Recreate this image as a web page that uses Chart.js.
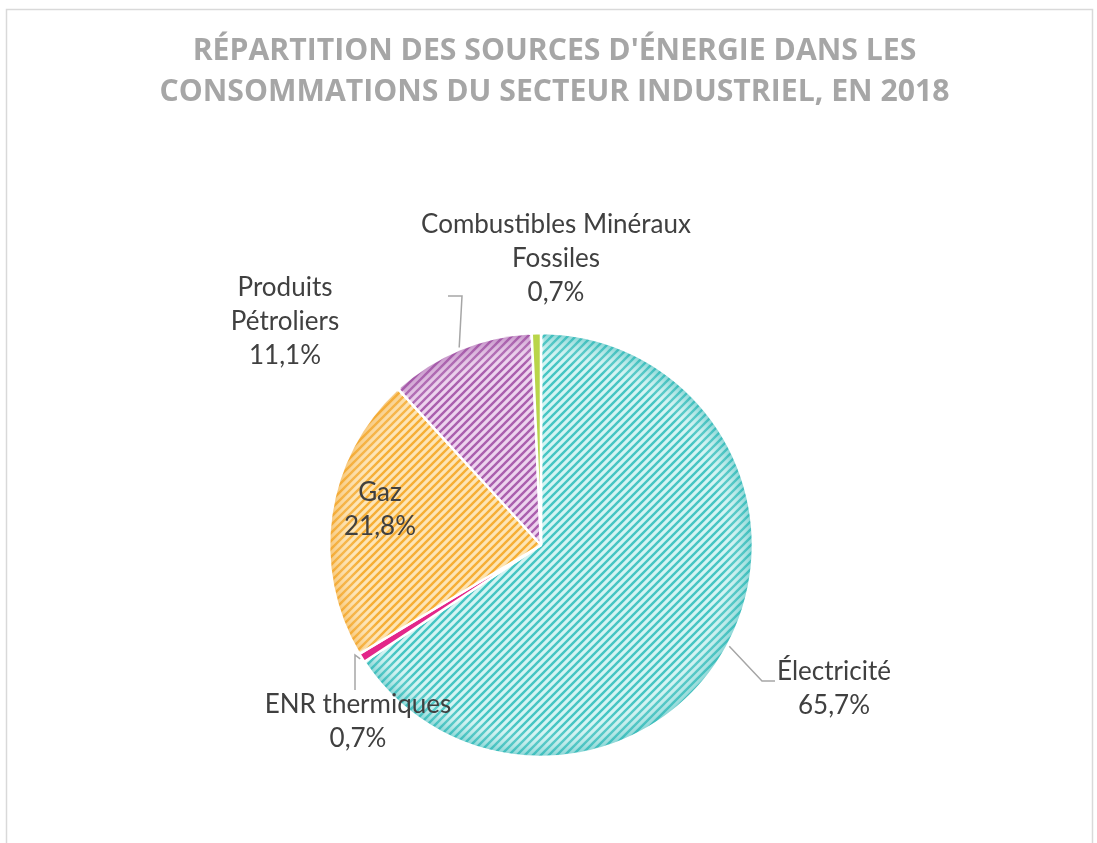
<!DOCTYPE html>
<html>
<head>
<meta charset="utf-8">
<script src="https://cdn.jsdelivr.net/npm/chart.js@4.4.1/dist/chart.umd.min.js"></script>
<style>
  html, body { margin: 0; padding: 0; background: #ffffff; }
  #wrap { width: 1097px; height: 843px; }
</style>
</head>
<body>
<div id="wrap"><canvas id="chart" width="1097" height="843"></canvas></div>
<script>
// Data
const categories = ['Électricité', 'ENR thermiques', 'Gaz', 'Produits Pétroliers', 'Combustibles Minéraux Fossiles'];
const shares = [65.7, 0.7, 21.8, 11.1, 0.7];
const labelLines = [
  ['Électricité'],
  ['ENR thermiques'],
  ['Gaz'],
  ['Produits', 'Pétroliers'],
  ['Combustibles Minéraux', 'Fossiles']
];
const titleLines = [
  "RÉPARTITION DES SOURCES D'ÉNERGIE DANS LES",
  'CONSOMMATIONS DU SECTEUR INDUSTRIEL, EN 2018'
];

// Label placement, relative to the pie centre (px)
const labelLayout = [
  { dx: 293, dy: 144, leader: [[221, 136], [234, 136]] },
  { dx: -183, dy: 177, leader: [[-186, 110], [-186, 145]] },
  { dx: -161, dy: -35, leader: null },
  { dx: -256, dy: -223, leader: [[-79, -249], [-93, -249]] },
  { dx: 15, dy: -286, leader: null }
];

const labelFont = '26px Lato';
const labelColor = '#404040';
const titleFamily = 'Open Sans';
const titleWidth = 723;

// pick a title size so the first line is as wide as in the reference
function fitTitleSize() {
  const g = document.createElement('canvas').getContext('2d');
  g.font = 'bold 30px "' + titleFamily + '"';
  const w = g.measureText(titleLines[0]).width;
  return Math.round(30 * titleWidth / w * 10) / 10;
}

function stripePattern(bg, fg) {
  const size = 8;
  const c = document.createElement('canvas');
  c.width = size;
  c.height = size;
  const g = c.getContext('2d');
  g.fillStyle = bg;
  g.fillRect(0, 0, size, size);
  g.strokeStyle = fg;
  g.lineWidth = 2.4;
  g.beginPath();
  g.moveTo(-2, size + 2); g.lineTo(size + 2, -2);
  g.moveTo(-2, 2); g.lineTo(2, -2);
  g.moveTo(size - 2, size + 2); g.lineTo(size + 2, size - 2);
  g.stroke();
  return g.createPattern(c, 'repeat');
}

const fills = [
  stripePattern('#d4f4f3', '#45c5c3'),
  '#e3268a',
  stripePattern('#fde5b6', '#f6ae35'),
  stripePattern('#edd3ee', '#aa5fae'),
  '#b9d54a'
];
const edgeShade = ['rgba(40,175,175,0.45)', null, 'rgba(240,160,40,0.45)', 'rgba(150,70,155,0.45)', null];

// frame and title (title drawn here so it is not squeezed into the pie's box)
const framePlugin = {
  id: 'frame',
  beforeDraw(chart) {
    const ctx = chart.ctx;
    ctx.save();
    ctx.strokeStyle = '#d9d9d9';
    ctx.lineWidth = 1.5;
    ctx.strokeRect(6.5, 9.5, 1086, 900);
    const size = fitTitleSize();
    ctx.font = 'bold ' + size + 'px "' + titleFamily + '"';
    ctx.fillStyle = '#a6a6a6';
    ctx.textAlign = 'center';
    ctx.textBaseline = 'middle';
    titleLines.forEach((t, k) => ctx.fillText(t, 554.5, 51 + k * 41));
    ctx.restore();
  }
};

// soft darker rim along the outer edge of the patterned slices
const shadePlugin = {
  id: 'edgeShade',
  afterDatasetsDraw(chart) {
    const ctx = chart.ctx;
    const meta = chart.getDatasetMeta(0);
    meta.data.forEach((arc, i) => {
      if (!edgeShade[i]) return;
      const p = arc.getProps(['x', 'y', 'startAngle', 'endAngle', 'outerRadius'], true);
      const pad = 0.012;
      ctx.save();
      ctx.beginPath();
      ctx.moveTo(p.x, p.y);
      ctx.arc(p.x, p.y, p.outerRadius - 1, p.startAngle + pad, p.endAngle - pad);
      ctx.closePath();
      ctx.clip();
      const grad = ctx.createRadialGradient(p.x, p.y, p.outerRadius * 0.86, p.x, p.y, p.outerRadius);
      grad.addColorStop(0, 'rgba(255,255,255,0)');
      grad.addColorStop(1, edgeShade[i]);
      ctx.fillStyle = grad;
      ctx.fillRect(p.x - p.outerRadius, p.y - p.outerRadius, p.outerRadius * 2, p.outerRadius * 2);
      ctx.restore();
    });
  }
};

const labelPlugin = {
  id: 'sliceLabels',
  afterDatasetsDraw(chart) {
    const ctx = chart.ctx;
    const meta = chart.getDatasetMeta(0);
    ctx.save();
    meta.data.forEach((arc, i) => {
      const p = arc.getProps(['x', 'y', 'startAngle', 'endAngle', 'outerRadius'], true);
      const mid = (p.startAngle + p.endAngle) / 2;
      const lay = labelLayout[i];
      if (lay.leader) {
        ctx.strokeStyle = '#a6a6a6';
        ctx.lineWidth = 1.5;
        ctx.beginPath();
        ctx.moveTo(p.x + Math.cos(mid) * (p.outerRadius + 2), p.y + Math.sin(mid) * (p.outerRadius + 2));
        lay.leader.forEach(pt => ctx.lineTo(p.x + pt[0], p.y + pt[1]));
        ctx.stroke();
      }
      const lines = labelLines[i].concat([shares[i].toFixed(1).replace('.', ',') + '%']);
      const lh = 34;
      const cx = p.x + lay.dx;
      const cy = p.y + lay.dy;
      ctx.font = labelFont;
      ctx.fillStyle = labelColor;
      ctx.textAlign = 'center';
      ctx.textBaseline = 'middle';
      lines.forEach((t, k) => {
        ctx.fillText(t, cx, cy + (k - (lines.length - 1) / 2) * lh);
      });
    });
    ctx.restore();
  }
};

new Chart(document.getElementById('chart'), {
  type: 'pie',
  data: {
    labels: categories,
    datasets: [{
      data: shares,
      backgroundColor: fills,
      borderColor: '#ffffff',
      borderWidth: 2.5
    }]
  },
  options: {
    responsive: false,
    animation: false,
    layout: { padding: { left: 328, right: 343, top: 332, bottom: 85 } },
    plugins: {
      legend: { display: false },
      tooltip: { enabled: false },
      title: { display: false }
    }
  },
  plugins: [framePlugin, shadePlugin, labelPlugin]
});
</script>
</body>
</html>
